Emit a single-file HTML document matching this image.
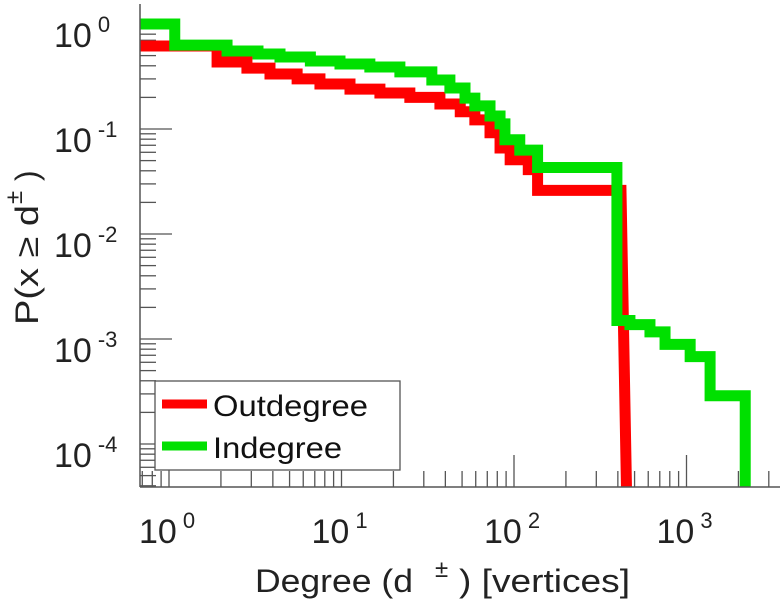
<!DOCTYPE html>
<html><head><meta charset="utf-8"><style>
html,body{margin:0;padding:0;background:#fff;}
svg{display:block;font-family:"Liberation Sans",sans-serif;}
</style></head><body>
<svg id="chart" width="780" height="600" viewBox="0 0 780 600" xmlns="http://www.w3.org/2000/svg">
<g id="ticks"></g>
<g id="series"></g>
<line x1="140" y1="4" x2="140" y2="487" stroke="#555" stroke-width="1.5"/>
<line x1="140" y1="487" x2="780" y2="487" stroke="#555" stroke-width="1.5"/>
<g id="labels" fill="#222"></g>
<g fill="#222">
<text x="255" y="592" font-size="32" textLength="158" lengthAdjust="spacingAndGlyphs">Degree (d</text>
<text x="435" y="577" font-size="24">±</text>
<text x="459" y="592" font-size="32" textLength="171" lengthAdjust="spacingAndGlyphs">) [vertices]</text>
</g>
<g fill="#222" transform="translate(38,325) rotate(-90)">
<text x="0" y="0" font-size="32" textLength="120" lengthAdjust="spacingAndGlyphs">P(x ≥ d</text>
<text x="121" y="-16" font-size="24">±</text>
<text x="144" y="0" font-size="32">)</text>
</g>
<g>
<rect x="155" y="381" width="245" height="89" fill="#fff" stroke="#555" stroke-width="1.3"/>
<line x1="162" y1="404" x2="207" y2="404" stroke="#ff0000" stroke-width="9"/>
<text x="213" y="416" font-size="30" fill="#111" textLength="155" lengthAdjust="spacingAndGlyphs">Outdegree</text>
<line x1="162" y1="446" x2="207" y2="446" stroke="#00e000" stroke-width="9"/>
<text x="213" y="458" font-size="30" fill="#111" textLength="129" lengthAdjust="spacingAndGlyphs">Indegree</text>
</g>
</svg>
<script>
const xTickExps = [0, 1, 2, 3];
const yTickExps = [0, -1, -2, -3, -4];
const outDeg = [0.68, 1.9, 2.83, 3.85, 5.53, 7.5, 11.2, 16.7, 24.9, 37.2, 48.8, 59.3, 72.6, 83, 95, 121, 137, 417];
const outP   = [0.617, 0.435, 0.38, 0.334, 0.30, 0.268, 0.24, 0.22, 0.20, 0.173, 0.146, 0.122, 0.092, 0.066, 0.051, 0.041, 0.026, 0.026];
const outEndDeg = 450, outEndP = 0.00003;
const inDeg = [0.68, 1.08, 2.17, 3.28, 4.4, 6.6, 9.8, 14.6, 21.8, 33.4, 42.5, 52, 59.3, 72.6, 83, 88.6, 108, 137, 395, 470, 614, 751, 1050, 1370, 2190];
const inP   = [1.0, 0.63, 0.553, 0.518, 0.485, 0.444, 0.416, 0.39, 0.35, 0.293, 0.246, 0.197, 0.166, 0.133, 0.112, 0.079, 0.063, 0.043, 0.0015, 0.00137, 0.00117, 0.00089, 0.00068, 0.000288, 0.00003];

const NS = "http://www.w3.org/2000/svg";
const X0 = 169, XD = 172.5, Y0 = 24, YD = 105, BOT = 487, LEFT = 140;
function xs(d){ return X0 + XD*Math.log10(d); }
function ys(p){ return Math.min(BOT + 20, Y0 - YD*Math.log10(p)); }

const ticks = document.getElementById('ticks');
function tick(x1,y1,x2,y2,name){
  const l = document.createElementNS(NS,'line');
  l.setAttribute('x1',x1);l.setAttribute('y1',y1);l.setAttribute('x2',x2);l.setAttribute('y2',y2);
  l.setAttribute('stroke','#555');l.setAttribute('stroke-width','1.3');
  
  
  ticks.appendChild(l);
}
for (let e=-1; e<=3; e++){
  for (let m=1; m<=9; m++){
    const x = xs(m*Math.pow(10,e));
    if (x < LEFT || x > 779) continue;
    tick(x, BOT, x, BOT-(m===1?32:16), m===1?'x-major-tick':'x-minor-tick');
  }
}
for (let e=-5; e<=0; e++){
  for (let m=1; m<=9; m++){
    const y = ys(m*Math.pow(10,e));
    if (y < 4 || y > BOT) continue;
    tick(LEFT, y, LEFT+(m===1?32:16), y, m===1?'y-major-tick':'y-minor-tick');
  }
}
const labels = document.getElementById('labels');
function label(x,y,exp,name){
  const t = document.createElementNS(NS,'text');
  t.setAttribute('x',x);t.setAttribute('y',y);t.setAttribute('font-size','34');
  
  
  t.textContent='10';
  const s = document.createElementNS(NS,'tspan');
  s.setAttribute('dx','6');s.setAttribute('dy','-15');s.setAttribute('font-size','22');
  s.textContent=String(exp);
  t.appendChild(s);
  labels.appendChild(t);
}
xTickExps.forEach(e=>{ label(xs(Math.pow(10,e))-30, 543, e, 'x-tick-label'); });
yTickExps.forEach(e=>{ label(54, ys(Math.pow(10,e))+23, e, 'y-tick-label'); });

const series = document.getElementById('series');
function stepPath(deg,p){
  let d = 'M'+xs(deg[0])+','+ys(p[0]);
  for (let i=1;i<deg.length;i++){
    d += ' L'+xs(deg[i])+','+ys(p[i-1])+' L'+xs(deg[i])+','+ys(p[i]);
  }
  return d;
}
function addPath(d,color,name){
  const pa = document.createElementNS(NS,'path');
  pa.setAttribute('d',d);pa.setAttribute('fill','none');pa.setAttribute('stroke',color);
  pa.setAttribute('stroke-width','11');pa.setAttribute('stroke-linejoin','miter');
  
  
  series.appendChild(pa);
}
const clip = document.createElementNS(NS,'clipPath');
clip.setAttribute('id','pc');
const cr = document.createElementNS(NS,'rect');
cr.setAttribute('x',LEFT);cr.setAttribute('y',0);cr.setAttribute('width',640);cr.setAttribute('height',BOT);
clip.appendChild(cr);series.appendChild(clip);
series.setAttribute('clip-path','url(#pc)');
addPath(stepPath(outDeg,outP)+' L'+xs(outEndDeg)+','+ys(outEndP),'#ff0000','outdegree-line');
addPath(stepPath(inDeg,inP),'#00e000','indegree-line');
</script>
</body></html>
